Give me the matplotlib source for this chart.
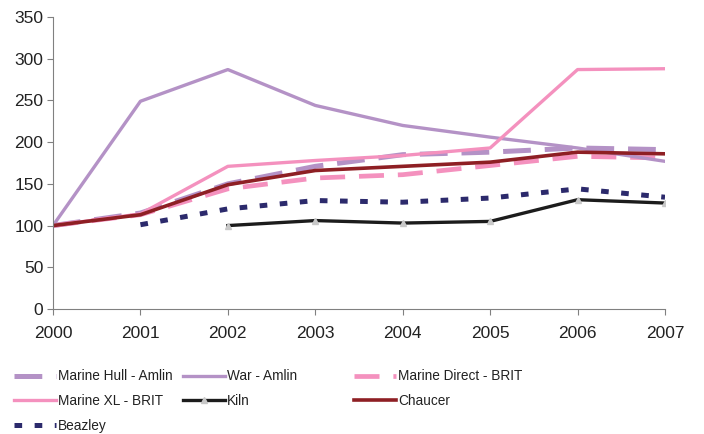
import matplotlib
matplotlib.use("Agg")
import matplotlib.pyplot as plt

plt.rcParams["font.family"] = ["Liberation Sans", "DejaVu Sans"]
plt.rcParams["lines.scale_dashes"] = False

years = [2000, 2001, 2002, 2003, 2004, 2005, 2006, 2007]

marine_hull_amlin = [100, 115, 150, 171, 185, 188, 193, 191]
war_amlin = [100, 249, 287, 244, 220, 206, 193, 177]
marine_direct_brit = [100, 113, 144, 157, 161, 172, 183, 181]
marine_xl_brit = [100, 114, 171, 178, 184, 193, 287, 288]
kiln_years = [2002, 2003, 2004, 2005, 2006, 2007]
kiln = [100, 106, 103, 105, 131, 127]
chaucer = [100, 113, 149, 166, 171, 176, 188, 186]
beazley_years = [2001, 2002, 2003, 2004, 2005, 2006, 2007]
beazley = [101, 120, 130, 128, 133, 144, 134]

LAVANDA = "#B492C6"
ROSA = "#F491BE"
VINHO = "#8E1F24"
MARINHO = "#2C2A6C"
PRETO = "#1C1C1C"
CINZA = "#808080"
TEXTO = "#222222"

fig = plt.figure(figsize=(7.04, 4.34), dpi=100)
ax = fig.add_axes([53 / 704, 1 - 309 / 434, 612 / 704, 292 / 434])

l_hull, = ax.plot(years, marine_hull_amlin, color=LAVANDA, lw=3.6,
                  dashes=(20, 10), dash_capstyle="butt")
l_direct, = ax.plot(years, marine_direct_brit, color=ROSA, lw=3.4,
                    dashes=(18, 10), dash_capstyle="butt")
l_war, = ax.plot(years, war_amlin, color=LAVANDA, lw=2.4)
l_xl, = ax.plot(years, marine_xl_brit, color=ROSA, lw=2.4)
l_beazley, = ax.plot(beazley_years, beazley, color=MARINHO, lw=3.6,
                     dashes=(5.5, 9), dash_capstyle="butt")
l_kiln, = ax.plot(kiln_years, kiln, color=PRETO, lw=2.4, marker="^",
                  markersize=5, markerfacecolor="#C8C8C8", markeredgecolor="#C8C8C8")
l_chaucer, = ax.plot(years, chaucer, color=VINHO, lw=2.6)

ax.set_xlim(2000, 2007)
ax.set_ylim(0, 350)
ax.set_xticks(years)
ax.set_yticks(range(0, 351, 50))
for lado in ("top", "right"):
    ax.spines[lado].set_visible(False)
for lado in ("left", "bottom"):
    ax.spines[lado].set_color(CINZA)
    ax.spines[lado].set_linewidth(0.8)
ax.tick_params(axis="both", direction="out", length=4, width=0.8, color=CINZA,
               labelsize=12.5, labelcolor=TEXTO)
ax.tick_params(axis="x", pad=8)
ax.tick_params(axis="y", pad=3)

# legenda em três colunas de largura fixa
colunas = [
    (15 / 704, [(l_hull, "Marine Hull - Amlin"), (l_xl, "Marine XL - BRIT"),
                (l_beazley, "Beazley")]),
    (184 / 704, [(l_war, "War - Amlin"), (l_kiln, "Kiln")]),
    (355 / 704, [(l_direct, "Marine Direct - BRIT"), (l_chaucer, "Chaucer")]),
]
for x, itens in colunas:
    fig.legend([h for h, _ in itens], [t for _, t in itens],
               loc="upper left", bbox_to_anchor=(x - 0.009, 1 - 364 / 434),
               frameon=False, fontsize=9.8, handlelength=3.1,
               handletextpad=0.15, labelspacing=0.78, borderaxespad=0,
               labelcolor=TEXTO)

fig.savefig("out.png", dpi=100, facecolor="white")
